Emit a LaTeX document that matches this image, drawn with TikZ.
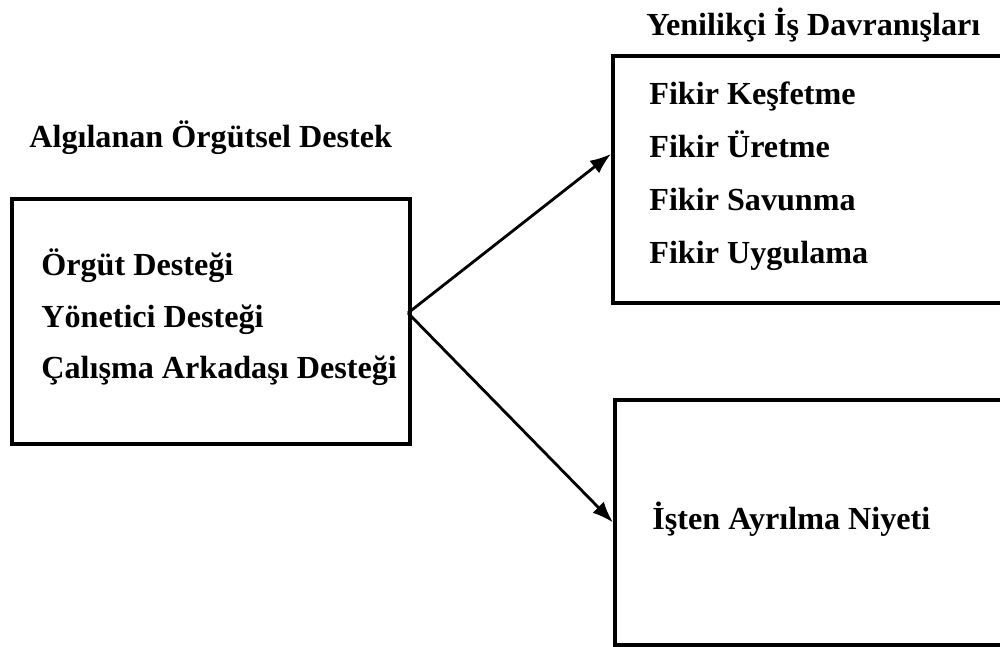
\documentclass[tikz,border=0pt]{standalone}
\usepackage{fontspec}
\setmainfont{Liberation Serif}
\usetikzlibrary{positioning, arrows.meta, calc}

\begin{document}
\begin{tikzpicture}[
  x=0.02cm, y=-0.02cm,
  font=\fontsize{18.3}{22}\selectfont\bfseries,
  box/.style={draw, line width=2.2pt, anchor=north west, minimum width=7.96cm, minimum height=4.9cm, inner sep=0pt},
  item/.style={anchor=base west, inner sep=0pt},
  conn/.style={-{Latex[length=12pt, width=9pt]}, line width=1.6pt},
]
\clip (0,0) rectangle (1000,646);

% --- boxes ---
\node[box] (aod) at (10,197) {};
\node[box, minimum height=4.94cm, minimum width=7.98cm] (yid) at (611,54) {};
\node[box] (ayr) at (613,398) {};

% --- titles above the boxes ---
\node[item] (aodt) at (29,147) {Algılanan Örgütsel Destek};
\node[item] (yidt) at (646,35) {Yenilikçi İş Davranışları};

% perceived support dimensions
\node[item] (org) at (41,275) {Örgüt Desteği};
\node[item] (yon) at (41,327) {Yönetici Desteği};
\node[item] (cal) at (41,378) {Çalışma Arkadaşı Desteği};

% innovative behaviour dimensions
\node[item] (kes) at (649,104) {Fikir Keşfetme};
\node[item] (ure) at (649,157) {Fikir Üretme};
\node[item] (sav) at (649,210) {Fikir Savunma};
\node[item] (uyg) at (649,263) {Fikir Uygulama};

% turnover intention
\node[item] (niy) at (652,529) {İşten Ayrılma Niyeti};

% connectors from the support box
\coordinate (src) at (408,313);
\draw[conn] (src) -- ([yshift=0.51cm]yid.west);
\draw[conn] (src) -- (ayr.west);
\end{tikzpicture}
\end{document}
